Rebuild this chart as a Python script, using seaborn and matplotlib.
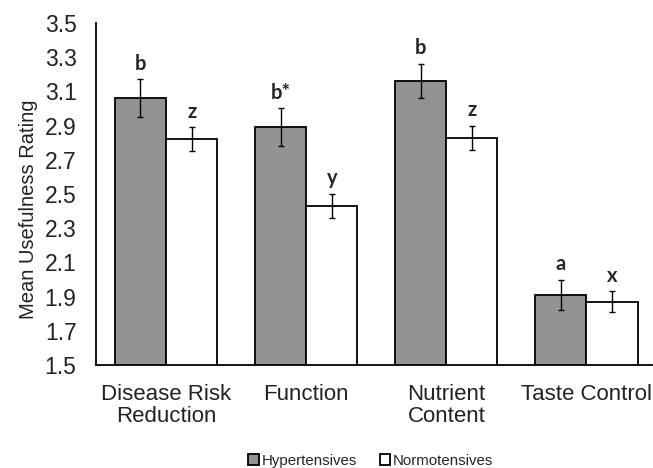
import pandas as pd
import seaborn as sns
import matplotlib.pyplot as plt

categories = ['Disease Risk\nReduction', 'Function', 'Nutrient\nContent', 'Taste Control']
groups = ['Hypertensives', 'Normotensives']
hyper_means = [3.06, 2.89, 3.16, 1.91]
normo_means = [2.82, 2.43, 2.83, 1.87]
hyper_err = [0.11, 0.11, 0.10, 0.09]
normo_err = [0.07, 0.07, 0.07, 0.06]
hyper_letters = ['b', 'b*', 'b', 'a']
normo_letters = ['z', 'y', 'z', 'x']

data = pd.DataFrame({
    'Category': categories * 2,
    'Group': [groups[0]] * 4 + [groups[1]] * 4,
    'Mean': hyper_means + normo_means,
    'Err': hyper_err + normo_err,
    'Letter': hyper_letters + normo_letters,
})

sns.set_style('white')
plt.rcParams['font.family'] = ['Liberation Sans', 'DejaVu Sans']

fig = plt.figure(figsize=(6.53, 4.68), dpi=100)
ax = fig.add_axes([0.147, 0.22, 0.852, 0.731])

sns.barplot(data=data, x='Category', y='Mean', hue='Group',
            palette=['#939393', '#ffffff'], edgecolor='black', linewidth=1.3,
            width=0.73, errorbar=None, ax=ax)
bar_groups = list(ax.containers)

# error bars and significance letters at the bar centres
for container, grp in zip(bar_groups, groups):
    sub = data[data['Group'] == grp]
    xs = [p.get_x() + p.get_width() / 2 for p in container.patches]
    ax.errorbar(xs, sub['Mean'], yerr=sub['Err'], fmt='none',
                ecolor='black', elinewidth=1.0, capsize=2.5, capthick=1.0)
    for x, m, e, lab in zip(xs, sub['Mean'], sub['Err'], sub['Letter']):
        ax.annotate(lab, (x, m + e), xytext=(0, 4), textcoords='offset points',
                    ha='center', va='bottom', fontsize=14.5, fontweight='bold',
                    family=['Lato', 'DejaVu Sans'])

ax.set_ylim(1.5, 3.5)
ax.set_yticks([1.5, 1.7, 1.9, 2.1, 2.3, 2.5, 2.7, 2.9, 3.1, 3.3, 3.5])
ax.set_yticklabels(['1.5', '1.7', '1.9', '2.1', '2.3', '2.5', '2.7', '2.9', '3.1', '3.3', '3.5'])
ax.set_xlim(-0.5, 3.47)
ax.tick_params(axis='y', labelsize=16.5, length=0, pad=14, colors='#222222')
ax.tick_params(axis='x', labelsize=16, length=0, pad=14, colors='#222222')
for t in ax.get_xticklabels():
    t.set_linespacing(1.05)
ax.set_xlabel('')
ax.set_ylabel('Mean Usefulness Rating', fontsize=14.5, color='#222222')
ax.yaxis.set_label_coords(-0.104, 0.455)

for s in ['top', 'right']:
    ax.spines[s].set_visible(False)
for s in ['left', 'bottom']:
    ax.spines[s].set_color('black')
    ax.spines[s].set_linewidth(1.3)

ax.get_legend().remove()
fig.legend([c.patches[0] for c in bar_groups], groups, loc='center',
           bbox_to_anchor=(0.568, 0.015), ncol=2, frameon=False, fontsize=10.8,
           handlelength=0.7, handleheight=0.7, handletextpad=0.2, columnspacing=1.5)

plt.savefig('out.png', dpi=100)
